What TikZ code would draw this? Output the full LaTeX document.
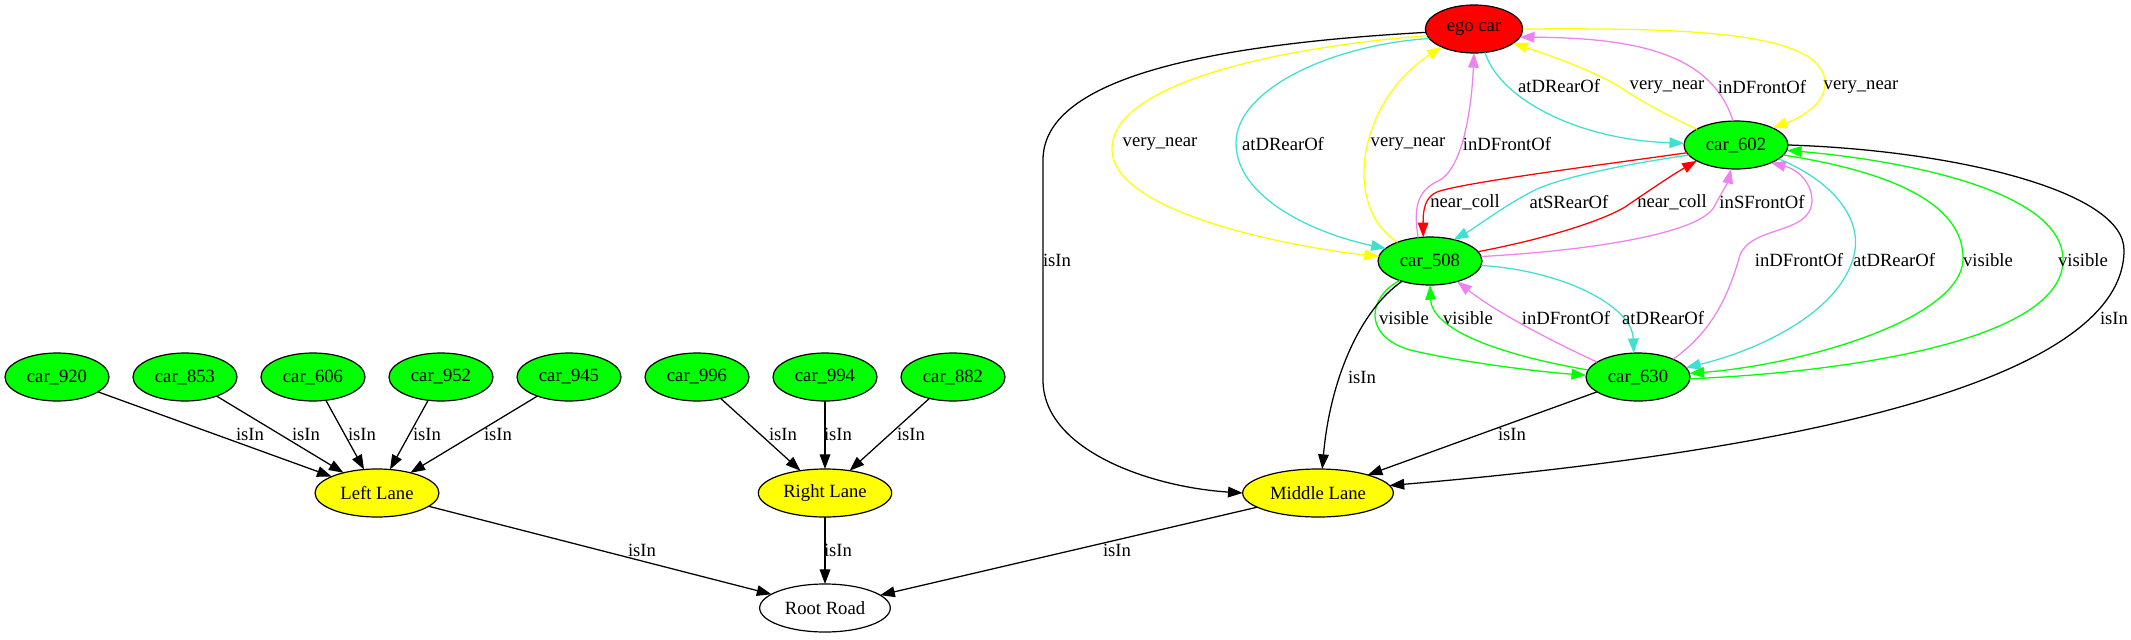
\documentclass[tikz,border=0pt]{standalone}
\usepackage{fontspec}
\setmainfont{Liberation Serif}
\usepackage{xcolor}
\definecolor{gvgreen}{HTML}{00FF00}
\definecolor{gvyellow}{HTML}{FFFF00}
\definecolor{gvred}{HTML}{FF0000}
\definecolor{gvturq}{HTML}{40E0D0}
\definecolor{gvviolet}{HTML}{EE82EE}
\usetikzlibrary{positioning, arrows.meta, shapes.geometric}

\begin{document}
\begin{tikzpicture}[
  x=0.75pt, y=-0.75pt,
  font=\fontsize{14pt}{16pt}\selectfont,
  oval/.style={draw, ellipse, inner sep=0pt, outer sep=0pt, minimum height=36pt,
               line width=0.9pt},
  car/.style={oval, fill=gvgreen, minimum width=78pt},
  lane/.style={oval, fill=gvyellow},
  egocar/.style={oval, fill=gvred, minimum width=73pt},
  root/.style={oval, fill=white, minimum width=98pt},
  lbl/.style={inner sep=0pt},
  arr/.style={-{Triangle[length=11pt, width=8pt]}, line width=0.95pt},
  isin/.style={arr, black},
  vnear/.style={arr, gvyellow},
  drear/.style={arr, gvturq},
  front/.style={arr, gvviolet},
  coll/.style={arr, gvred},
  vis/.style={arr, gvgreen}
]
\useasboundingbox (0,0) rectangle (2131,639);

\node[egocar] (ego) at (1474,29) {ego car};
\node[car] (c602) at (1736,145) {car\_602};
\node[car] (c508) at (1430,261) {car\_508};
\node[car] (c630) at (1638,377) {car\_630};
\node[lane, minimum width=113pt] (midlane) at (1318,493) {Middle Lane};
\node[lane, minimum width=93pt] (leftlane) at (377,493) {Left Lane};
\node[lane, minimum width=100pt] (rightlane) at (825,493) {Right Lane};
\node[root] (rootroad) at (825,608) {Root Road};

\node[car] (c920) at (57,377) {car\_920};
\node[car, right=18pt of c920] (c853) {car\_853};
\node[car, right=18pt of c853] (c606) {car\_606};
\node[car, right=18pt of c606] (c952) {car\_952};
\node[car, right=18pt of c952] (c945) {car\_945};
\node[car, right=18pt of c945] (c996) {car\_996};
\node[car, right=18pt of c996] (c994) {car\_994};
\node[car, right=18pt of c994] (c882) {car\_882};

\draw[isin] (c920) -- (leftlane);
\draw[isin] (c853) -- (leftlane);
\draw[isin] (c606) -- (leftlane);
\draw[isin] (c952) -- (leftlane);
\draw[isin] (c945) -- (leftlane);
\draw[isin] (c996) -- (rightlane);
\draw[isin] (c994) -- (rightlane);
\draw[isin] (c882) -- (rightlane);
\draw[isin] (leftlane) -- (rootroad);
\draw[isin] (rightlane) -- (rootroad);
\draw[isin] (midlane) -- (rootroad);

\node[lbl] (isin1) at (250,434) {isIn};
\node[lbl] (isin2) at (306,434) {isIn};
\node[lbl] (isin3) at (362,434) {isIn};
\node[lbl] (isin4) at (427,434) {isIn};
\node[lbl] (isin5) at (498,434) {isIn};
\node[lbl] (isin6) at (783,434) {isIn};
\node[lbl] (isin7) at (838,434) {isIn};
\node[lbl] (isin8) at (911,434) {isIn};
\node[lbl] (isin9) at (642,550) {isIn};
\node[lbl] (isin10) at (838,550) {isIn};
\node[lbl] (isin11) at (1117,550) {isIn};

\draw[isin] (ego.184) .. controls (1200,45) and (1043,80) .. (1043,160) -- (1043,380)
  .. controls (1043,450) and (1150,487) .. (midlane.west);
\draw[vnear] (ego.188) .. controls (1250,50) and (1110,90) .. (1112,150)
  .. controls (1114,215) and (1300,248) .. (c508.175);
\draw[drear] (ego.192) .. controls (1330,45) and (1236,90) .. (1236,143)
  .. controls (1236,200) and (1320,235) .. (c508.164);
\draw[vnear] (c508.150) .. controls (1340,205) and (1360,100) .. (ego.209);
\draw[front] (c508.117) .. controls (1413,205) and (1418,190) .. (1440,180)
  .. controls (1465,165) and (1472,100) .. (ego.south);
\draw[drear] (ego.295) .. controls (1500,100) and (1580,140) .. (c602.178);
\draw[vnear] (c602.158) .. controls (1660,112) and (1640,100) .. (1627,92)
  .. controls (1612,80) and (1570,62) .. (ego.340);
\draw[front] (c602.97) .. controls (1712,55) and (1640,38) .. (ego.350);
\draw[vnear] (ego.east) .. controls (1680,28) and (1828,30) .. (1825,85)
  .. controls (1824,105) and (1800,118) .. (c602.25);

\draw[coll] (c602.189) .. controls (1600,165) and (1460,183) .. (1437,192)
  .. controls (1425,197) and (1423,210) .. (c508.106);
\draw[drear] (c602.192) .. controls (1620,165) and (1560,178) .. (1535,190)
  .. controls (1505,205) and (1475,228) .. (c508.42);
\draw[coll] (c508.11) .. controls (1540,240) and (1600,222) .. (1625,207)
  .. controls (1650,190) and (1672,175) .. (c602.202);
\draw[front] (c508.5) .. controls (1600,250) and (1700,232) .. (1714,207)
  .. controls (1722,192) and (1728,182) .. (c602.258);

\draw[front] (c630.27) .. controls (1715,330) and (1730,290) .. (1740,255)
  .. controls (1752,225) and (1812,235) .. (1812,200)
  .. controls (1812,185) and (1800,170) .. (c602.333);
\draw[drear] (c602.342) .. controls (1830,180) and (1860,215) .. (1855,250)
  .. controls (1845,310) and (1760,350) .. (c630.11);
\draw[vis] (c602.348) .. controls (1880,170) and (1965,200) .. (1963,260)
  .. controls (1960,320) and (1800,365) .. (c630.4);
\draw[vis] (c630.358) .. controls (1850,372) and (2063,340) .. (2063,260)
  .. controls (2063,190) and (1900,160) .. (c602.354);
\draw[isin] (c602.east) .. controls (1950,150) and (2124,190) .. (2124,250)
  .. controls (2124,390) and (1750,455) .. (midlane.6);

\draw[drear] (c508.355) .. controls (1560,270) and (1632,305) .. (c630.100);
\draw[front] (c630.160) .. controls (1560,345) and (1500,315) .. (c508.323);
\draw[vis] (c508.213) .. controls (1370,295) and (1360,335) .. (1410,350)
  .. controls (1460,362) and (1540,372) .. (c630.178);
\draw[vis] (c630.172) .. controls (1500,355) and (1432,330) .. (c508.south);
\draw[isin] (c508.216) .. controls (1360,310) and (1330,380) .. (midlane.80);
\draw[isin] (c630) -- (midlane);

\node[lbl] (isin12) at (1057,260) {isIn};
\node[lbl] (isin13) at (1362,377) {isIn};
\node[lbl] (isin14) at (1512,434) {isIn};
\node[lbl] (isin15) at (2114,318) {isIn};
\node[lbl] (vn1) at (1160,144) {very\_near};
\node[lbl] (dr1) at (1283,144) {atDRearOf};
\node[lbl] (vn2) at (1408,144) {very\_near};
\node[lbl] (fr1) at (1507,144) {inDFrontOf};
\node[lbl] (dr2) at (1559,86) {atDRearOf};
\node[lbl] (vn3) at (1667,87) {very\_near};
\node[lbl] (fr2) at (1762,87) {inDFrontOf};
\node[lbl] (vn4) at (1861,87) {very\_near};
\node[lbl] (nc1) at (1465,202) {near\_coll};
\node[lbl] (sr1) at (1569,202) {atSRearOf};
\node[lbl] (nc2) at (1672,202) {near\_coll};
\node[lbl] (sf1) at (1762,202) {inSFrontOf};
\node[lbl] (fr3) at (1799,260) {inDFrontOf};
\node[lbl] (dr3) at (1894,260) {atDRearOf};
\node[lbl] (vis1) at (1988,260) {visible};
\node[lbl] (vis2) at (2083,260) {visible};
\node[lbl] (vis3) at (1404,318) {visible};
\node[lbl] (vis4) at (1468,318) {visible};
\node[lbl] (fr4) at (1566,318) {inDFrontOf};
\node[lbl] (dr4) at (1663,318) {atDRearOf};
\end{tikzpicture}
\end{document}
